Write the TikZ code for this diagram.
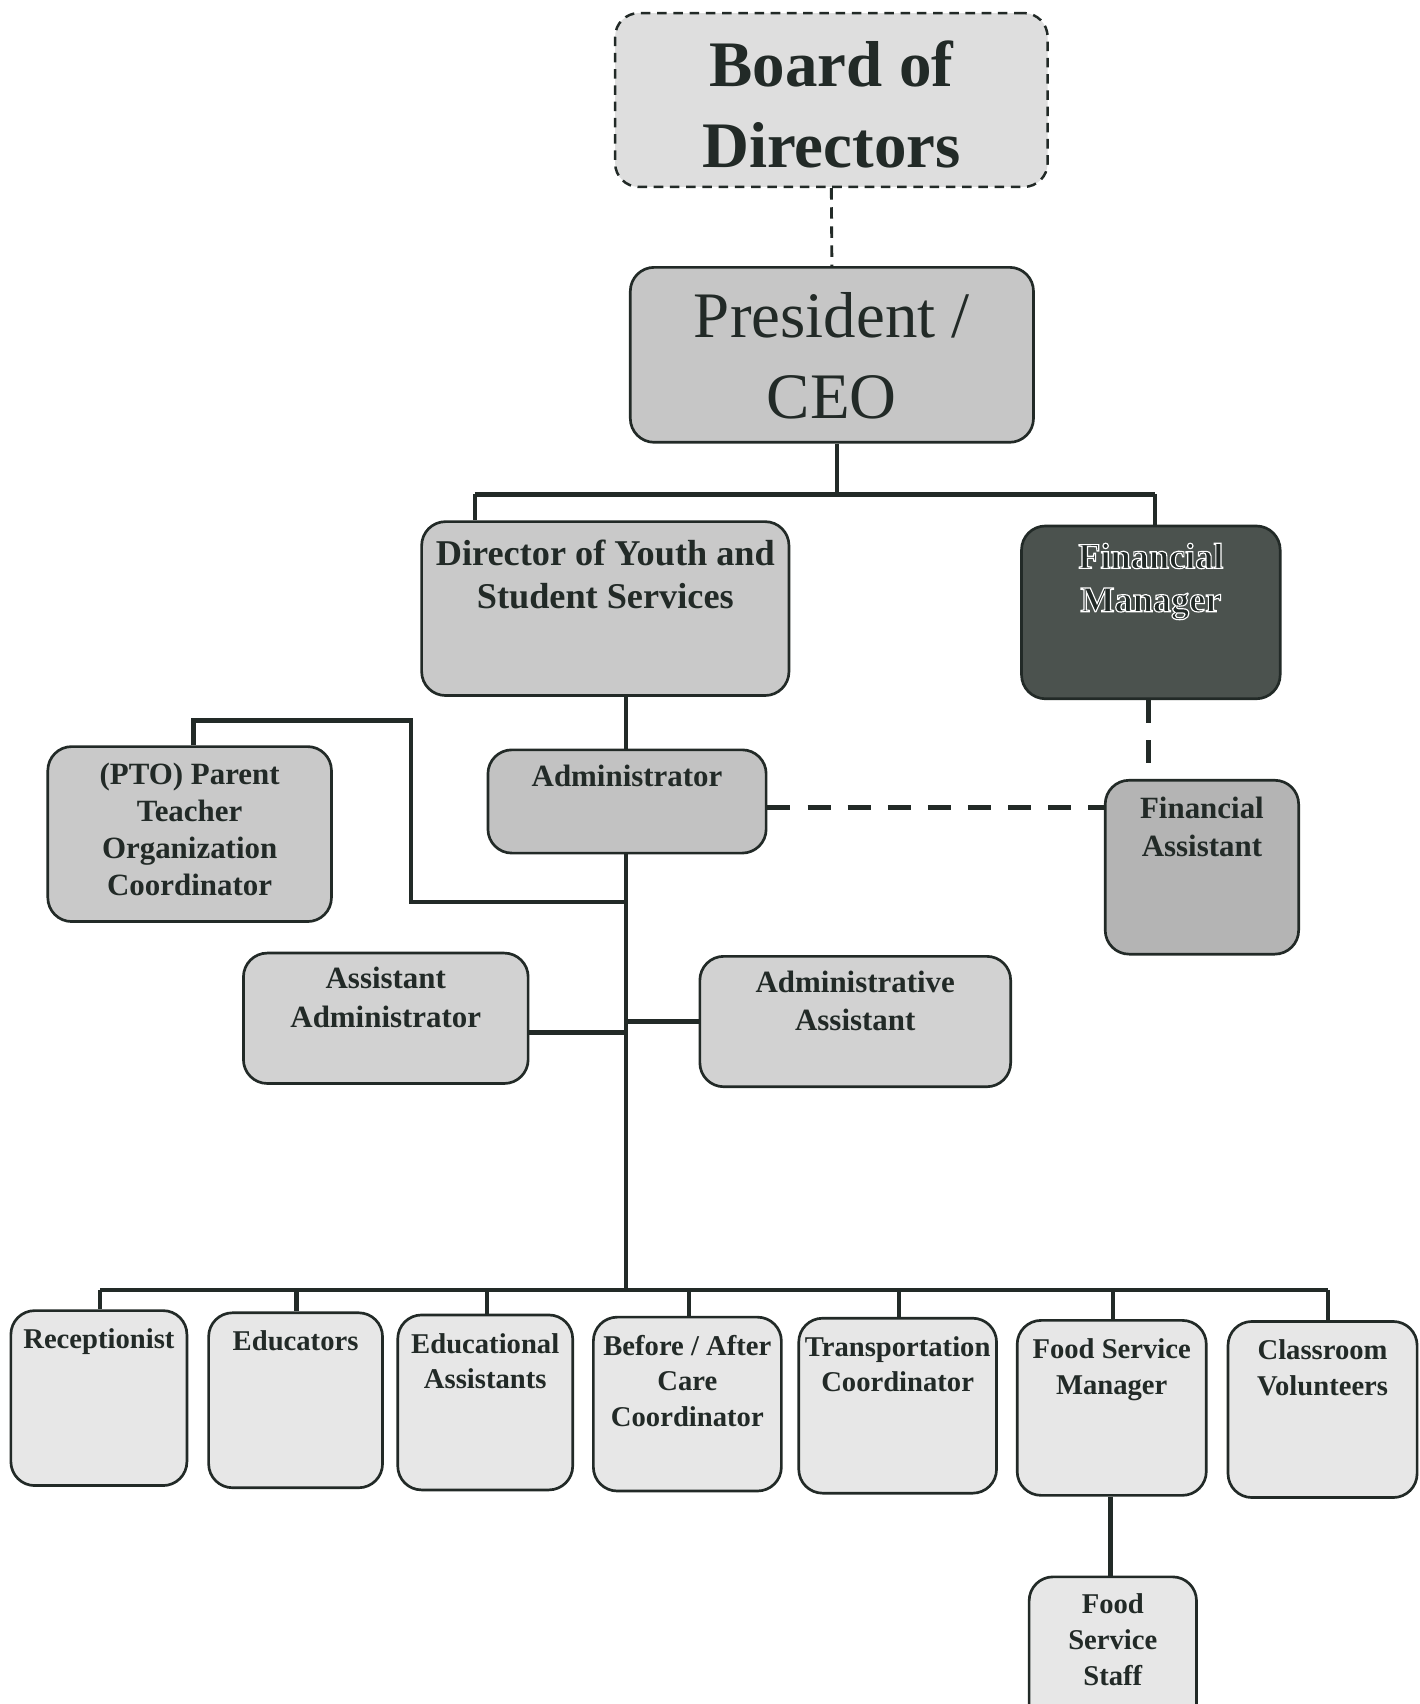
\documentclass[tikz,border=0pt]{standalone}
\usepackage{fontspec}
\setmainfont{Liberation Serif}
\usetikzlibrary{calc}
\definecolor{ink}{HTML}{222A27}
\definecolor{fillboard}{HTML}{DEDEDE}
\definecolor{fillpres}{HTML}{C6C6C6}
\definecolor{filldir}{HTML}{C9C9C9}
\definecolor{fillfm}{HTML}{4B524E}
\definecolor{fillfa}{HTML}{B4B4B4}
\definecolor{filladm}{HTML}{C2C2C2}
\definecolor{fillmid}{HTML}{D2D2D2}
\definecolor{filllow}{HTML}{E7E7E7}
\newcommand\orgbox[9]{%
  \pgfmathsetlengthmacro\bw{(#4-#2)*0.02cm}%
  \pgfmathsetlengthmacro\bh{(#5-#3)*0.02cm}%
  \pgfmathsetlengthmacro\bo{#7*0.02cm}%
  \node[#6, minimum width=\bw, minimum height=\bh, inner sep=0pt] (#1)
    at ({(#2+#4)/2},{(#3+#5)/2})
    {\parbox[c][\bh][t]{\bw}{\centering #8\rule{0pt}{\bo}#9\par}};}
\newcommand\haloon{\special{pdf:literal direct 2 Tr 1 G 0.6 w}}
\newcommand\halooff{\special{pdf:literal direct 0 Tr 0 G}}
\tikzset{
  orgshape/.style={draw=ink, line width=1.4pt, rounded corners=0.44cm, text=ink},
  boardshape/.style={orgshape, dashed, dash pattern=on 5pt off 3.5pt, line width=1.3pt, fill=fillboard},
  link/.style={draw=ink, line width=2.3pt},
  dlink/.style={draw=ink, line width=2.3pt, dash pattern=on 12pt off 9pt},
  tlink/.style={draw=ink, line width=1.5pt, dash pattern=on 6pt off 4pt},
}
\newcommand\boardfnt{\fontsize{34pt}{42pt}\selectfont\bfseries}
\newcommand\presfnt{\fontsize{34pt}{42pt}\selectfont}
\newcommand\dirfnt{\fontsize{19pt}{22.7pt}\selectfont\bfseries}
\newcommand\midfnt{\fontsize{16.2pt}{20pt}\selectfont\bfseries}
\newcommand\ptofnt{\fontsize{16.2pt}{19.3pt}\selectfont\bfseries}
\newcommand\lowfnt{\fontsize{15pt}{18.7pt}\selectfont\bfseries}
\begin{document}
\begin{tikzpicture}[x=0.02cm, y=-0.02cm]
\clip (0,0) rectangle (1306,1568);
\fill[white] (0,0) rectangle (1306,1568);

% boxes
\orgbox{board}{566}{12}{964}{172}{boardshape}{68}{\boardfnt}{Board of\\Directors}
\orgbox{pres}{580}{246}{951}{407}{orgshape, fill=fillpres}{65}{\presfnt}{President /\\CEO}
\orgbox{dir}{388}{480}{726}{640}{orgshape, fill=filldir}{40}{\dirfnt}{Director of Youth and\\Student Services}
\orgbox{fm}{940}{484}{1178}{643}{orgshape, fill=fillfm}{39}{\dirfnt\haloon}{Financial\\Manager\halooff}
\orgbox{fa}{1017}{718}{1195}{878}{orgshape, fill=fillfa}{35}{\midfnt}{Financial\\Assistant}
\orgbox{adm}{449}{690}{705}{785}{orgshape, fill=filladm}{34}{\midfnt}{Administrator}
\orgbox{pto}{44}{687}{305}{848}{orgshape, fill=filldir}{35}{\ptofnt}{(PTO) Parent\\Teacher\\Organization\\Coordinator}
\orgbox{aa}{224}{877}{486}{997}{orgshape, fill=fillmid}{33}{\midfnt}{Assistant\\Administrator}
\orgbox{adas}{644}{880}{930}{1000}{orgshape, fill=fillmid}{33}{\midfnt}{Administrative\\Assistant}
\orgbox{rec}{10}{1206}{172}{1367}{orgshape, fill=filllow}{35}{\lowfnt}{Receptionist}
\orgbox{edu}{192}{1208}{352}{1369}{orgshape, fill=filllow}{35}{\lowfnt}{Educators}
\orgbox{eda}{366}{1210}{527}{1371}{orgshape, fill=filllow}{35}{\lowfnt}{Educational\\Assistants}
\orgbox{bac}{546}{1212}{719}{1372}{orgshape, fill=filllow}{35}{\lowfnt}{Before / After\\Care\\Coordinator}
\orgbox{trc}{735}{1213}{917}{1374}{orgshape, fill=filllow}{35}{\lowfnt}{Transportation\\Coordinator}
\orgbox{fsm}{936}{1215}{1110}{1376}{orgshape, fill=filllow}{35}{\lowfnt}{Food Service\\Manager}
\orgbox{clv}{1130}{1216}{1304}{1378}{orgshape, fill=filllow}{35}{\lowfnt}{Classroom\\Volunteers}
\orgbox{fss}{947}{1451}{1101}{1600}{orgshape, fill=filllow}{34}{\lowfnt}{Food\\Service\\Staff}

% junction coordinates
\coordinate (pj) at (770,455);
\coordinate (pl) at (437,455);
\coordinate (pr) at (1063,455);
\coordinate (bus) at (576,1187);
\coordinate (busl) at (92,1187);
\coordinate (busr) at (1222,1187);
\coordinate (d2) at (273,1187);
\coordinate (d3) at (448,1187);
\coordinate (d4) at (634,1187);
\coordinate (d5) at (827,1187);
\coordinate (d6) at (1024,1187);
\coordinate (fsx) at (1022,1400);
\coordinate (ptoa) at (178,663);
\coordinate (ptob) at (378,663);
\coordinate (ptoc) at (378,830);
\coordinate (ptoj) at (576,830);
\coordinate (aaj) at (576,950);
\coordinate (adj) at (576,940);
\coordinate (fmx) at (1057,643);
\coordinate (daj) at (705,743);

% connectors
\draw[tlink] (board.south) -- (pres.north);
\draw[link] (pres.south -| pj) -- (pj);
\draw[link] (pl) -- (pr);
\draw[link] (pl) -- (pl |- dir.north);
\draw[link] (pr) -- (pr |- fm.north);
\draw[link] (adm.north -| bus) -- (dir.south -| bus);
\draw[link] (adm.south -| bus) -- (bus);
\draw[dlink] (fmx |- fm.south) -- (fmx |- fa.north);
\draw[dlink] (daj -| adm.east) -- (daj -| fa.west);
\draw[link] (ptoa |- pto.north) -- (ptoa) -- (ptob) -- (ptoc) -- (ptoj);
\draw[link] (aaj -| aa.east) -- (aaj);
\draw[link] (adj) -- (adj -| adas.west);
\draw[link] (busl) -- (busr);
\draw[link] (busl) -- (busl |- rec.north);
\draw[link] (d2) -- (d2 |- edu.north);
\draw[link] (d3) -- (d3 |- eda.north);
\draw[link] (d4) -- (d4 |- bac.north);
\draw[link] (d5) -- (d5 |- trc.north);
\draw[link] (d6) -- (d6 |- fsm.north);
\draw[link] (busr) -- (busr |- clv.north);
\draw[link] (fsx |- fsm.south) -- (fsx |- fss.north);
\end{tikzpicture}
\end{document}
